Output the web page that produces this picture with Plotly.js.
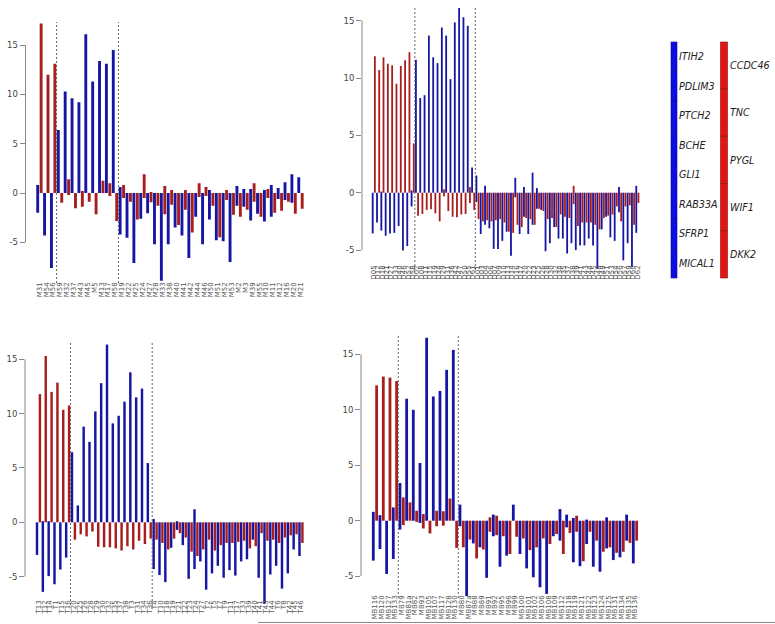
<!DOCTYPE html>
<html>
<head>
<meta charset="utf-8">
<script src="https://cdn.plot.ly/plotly-3.0.1.min.js"></script>
<style>html,body{margin:0;padding:0;background:#fff;}#chart{width:775px;height:624px;}</style>
</head>
<body>
<div id="chart"></div>
<script>
// ---------- DATA ----------
// Panel 1 (top-left)
const P1_LABELS = ["M31","M54","M56","M59","M32","M37","M43","M45","M5","M13","M17","M58","M19","M22","M25","M24","M27","M28","M33","M38","M40","M41","M42","M44","M46","M50","M51","M52","M53","M2","M3","M39","M55","M10","M11","M12","M16","M20","M21"];
const P1_BLUE_POS = [0.8,0,0,6.4,10.3,9.6,9.2,16.1,11.3,13.4,13.1,14.5,0.6,0,0,0,0,0,0,0,0,0,0,0,0,0.3,0,0,0,0.7,0.4,0.4,0,0.3,0.8,0.5,1.1,1.9,1.6];
const P1_BLUE_NEG = [-2.0,-4.3,-7.6,0,0,0,0,0,0,0,0,0,-4.2,-4.55,-7.1,-2.6,-2.05,-5.2,-8.9,-5.2,-3.5,-4.3,-6.6,-2.4,-5.2,-2.7,-4.8,-4.9,-7.0,-1.3,-1.4,-2.8,-2.1,-2.9,-2.4,-0.6,-0.7,-1.0,0];
const P1_RED_POS = [17.2,12.0,13.1,0,1.4,0,0.2,0,0,1.25,1.0,0,0.8,0,0,1.9,0.1,0,0.7,0.3,0,0.3,0,1.0,0.6,0,0,0.3,0,0,0,1.0,0,0.4,0,0,0,0,0];
const P1_RED_NEG = [0,0,0,-1.0,-0.2,-1.55,-1.4,-0.9,-2.15,0,-0.3,-2.85,-0.5,-0.9,-2.7,-0.5,-0.95,-1.3,-2.15,-1.2,-3.25,-1.7,-4.0,-0.4,-0.3,-1.3,-4.5,-0.7,-2.2,-2.4,-1.7,-0.9,-2.4,-0.5,-2.0,-1.8,-0.9,-2.1,-1.6];
const P1_SPLITS = [3,12];

// Panel 2 (top-right)
const P2_LABELS = ["D05","D12","D18","D21","D27","D33","D40","D46","D52","D58",
  "D02","D08","D11","D15","D19","D24","D29","D31","D36","D42","D47","D50","D55","D61",
  "D01","D03","D04","D06","D07","D09","D10","D13","D14","D16","D17","D20","D22","D23","D25","D26","D28","D30","D32","D34","D35","D37","D38","D39","D41","D43","D44","D45","D48","D49","D51","D53","D54","D56","D57","D59","D60","D62"];
const P2_BLUE_POS = [0,0,0.1,0,0,0,0,0,0,0.2,
  11.6,8.25,8.5,13.7,11.8,11.3,14.4,13.7,9.9,14.85,16.1,15.3,14.55,2.2,
  1.5,0,0.6,0,0,0,0,0,0,1.3,0,0.5,0,1.75,0.4,0,0,0,0,0,0,0,0,0,0,0,0,0,0,0,0,0,0,0.5,0,0,0,0.6];
const P2_BLUE_NEG = [-3.55,-2.6,-3.3,-3.75,-3.55,-3.5,-2.9,-5.05,-4.65,-1.2,
  0,0,0,0,0,0,0,0,0,0,0,0,0,0,
  -0.8,-3.6,-2.8,-3.1,-4.9,-4.9,-4.2,-3.4,-5.5,-0.4,-3.6,-2.1,-3.6,-2.8,-1.4,-1.5,-5.1,-4.4,-3.0,-4.0,-4.0,-5.3,-4.4,-5.0,-4.6,-4.6,-4.0,-4.6,-6.6,-3.2,-2.1,-3.9,-4.2,-1.7,-5.9,-4.4,-6.5,-3.5];
const P2_RED_POS = [11.9,10.7,11.8,11.25,11.1,9.5,11.05,11.55,12.25,4.3,
  0,0,0,0,0,0,0.3,0,0,0,0,0,0.5,0,
  0,0,0,0,0,0,0,0,0,0,0,0,0,0,0,0,0,0,0,0,0,0,0.6,0,0,0,0,0,0,0,0,0,0,0,0,0,0,0];
const P2_RED_NEG = [0,0,0,0,0,0,0,0,0,0,
  -2.0,-1.85,-1.5,-1.45,-1.8,-2.5,-0.3,-1.6,-2.1,-2.15,-1.9,-1.85,-0.9,-1.5,
  -2.3,-2.5,-2.4,-2.5,-2.4,-2.3,-2.6,-3.4,-3.5,-2.8,-3.0,-2.2,-2.3,-2.8,-1.4,-1.6,-2.3,-2.2,-3.0,-1.9,-2.1,-2.2,-1.0,-2.9,-2.6,-2.6,-2.6,-2.8,-3.2,-2.2,-2.0,-1.9,-1.2,-2.5,-1.2,-1.1,-2.8,-0.9];
const P2_SPLITS = [10,24];

// Panel 3 (bottom-left)
const P3_LABELS = ["T13","T12","T14","T1","T15","T16",
  "T20","T25","T26","T28","T29","T30","T32","T35","T37","T38","T3","T31","T34","T36",
  "T4","T10","T18","T19","T21","T22","T23","T24","T27","T2","T5","T7","T9","T11","T17","T33","T39","T40","T41","T43","T44","T6","T8","T42","T45","T46"];
const P3_BLUE_POS = [0,0.1,0.1,0,0,0,
  6.45,1.55,8.8,7.4,10.2,12.8,16.35,9.1,9.8,11.1,13.8,11.5,12.3,5.45,
  0.3,0,0,0,0.1,0,0,1.2,0,0,0,0,0,0,0,0,0,0,0,0,0,0,0,0,0,0];
const P3_BLUE_NEG = [-3.0,-6.4,-4.95,-5.7,-4.35,-3.25,
  0,0,0,0,0,0,0,0,0,0,0,0,0,0,
  -4.3,-4.85,-5.5,-2.35,-0.7,-2.1,-5.2,-4.3,-3.6,-6.2,-4.7,-4.0,-5.1,-4.4,-4.9,-3.6,-3.4,-1.6,-5.1,-7.5,-4.8,-4.0,-6.1,-4.7,-2.5,-3.1];
const P3_RED_POS = [11.8,15.3,12.0,12.85,10.35,10.75,
  0,0,0,0,0,0,0,0,0,0,0,0,0,0,
  0,0,0,0,0,0,0,0,0,0,0,0,0,0,0,0,0,0,0,0,0,0,0,0,0,0];
const P3_RED_NEG = [0,0,0,0,0,0,
  -1.6,-1.1,-1.3,-0.85,-2.25,-2.3,-2.3,-2.4,-2.6,-2.2,-2.5,-1.7,-2.0,-1.5,
  -1.6,-1.9,-2.5,-1.5,-1.0,-1.4,-2.7,-3.1,-2.5,-1.6,-2.6,-2.1,-1.9,-1.9,-1.8,-1.7,-2.4,-2.2,-1.0,-1.7,-1.6,-1.9,-1.4,-1.2,-1.1,-1.9];
const P3_SPLITS = [6,20];

// Panel 4 (bottom-right)
const P4_LABELS = ["MB116","MB120","MB127","MB133",
  "MB79","MB81a","MB82","MB93","MB105","MB107","MB117","MB128","MB130",
  "MB80","MB87a","MB88","MB89","MB91","MB92","MB95","MB96","MB99","MB100","MB101","MB102","MB106","MB108","MB109","MB112","MB118","MB119","MB121","MB122","MB123","MB124","MB125","MB131","MB134","MB135","MB136"];
const P4_BLUE_POS = [0.8,0.5,0,1.2,
  3.4,11.0,10.0,5.2,16.5,11.2,11.7,13.6,15.4,
  1.45,0,0,0,0,0.55,0,0,1.45,0,0,0,0,0,0,1.05,0.55,0.25,0,0.1,0,0,0.3,0,0,0.55,0];
const P4_BLUE_NEG = [-3.6,-2.55,-4.8,-3.45,
  -0.8,0,0,-0.2,0,0,0,0,0,
  -0.5,-6.8,-2.05,-2.4,-5.15,-1.4,-4.15,-3.15,0,-3.0,-4.3,-5.1,-6.0,-6.6,-1.4,-1.8,-0.6,-3.75,-4.1,-2.1,-4.15,-4.6,-2.5,-3.55,-3.3,-1.8,-3.85];
const P4_RED_POS = [12.2,13.0,12.9,12.6,
  2.1,1.65,0.9,0.6,0,0.9,0.85,2.0,0,
  0,0,0,0,0.3,0.45,0,0,0,0,0,0,0,0,0,0,0,0.45,0,0,0,0,0,0,0,0,0];
const P4_RED_NEG = [0,0,0,0,
  -0.4,0,-0.1,-0.7,-1.15,-0.5,-0.45,0,-2.45,
  -2.4,-1.7,-3.4,-2.6,-1.0,-1.3,-1.4,-3.0,-1.45,-1.6,-2.65,-2.4,-1.6,-2.1,-1.2,-3.0,-1.1,-1.0,-3.65,-1.0,-1.8,-2.8,-2.4,-2.9,-2.8,-2.0,-1.8];
const P4_SPLITS = [4,13];

// Legend genes
const BLUE_GENES = ["ITIH2","PDLIM3","PTCH2","BCHE","GLI1","RAB33A","SFRP1","MICAL1"];
const RED_GENES = ["CCDC46","TNC","PYGL","WIF1","DKK2"];
const Y_TICKS = [-5,0,5,10,15];
const Y_TICK_TEXT = ["-5","0","5","10","15"];

// ---------- STYLE / GEOMETRY ----------
const W = 775, H = 624;
const BLUE = "#1616a4", RED = "#a81e1e";
const FONT = "DejaVu Sans, Verdana, sans-serif";
const px = v => v / W;             // x pixel -> paper
const py = v => 1 - v / H;         // y pixel -> paper

const panels = [
  {lab:P1_LABELS,bp:P1_BLUE_POS,bn:P1_BLUE_NEG,rp:P1_RED_POS,rn:P1_RED_NEG,sp:P1_SPLITS,
   x0:37.7,dx:6.87,xl:25.5,xr:312,y0:193,dy:9.86,yt:22,yb:283,lab_y:280},
  {lab:P2_LABELS,bp:P2_BLUE_POS,bn:P2_BLUE_NEG,rp:P2_RED_POS,rn:P2_RED_NEG,sp:P2_SPLITS,
   x0:372.7,dx:4.321,xl:362,xr:645,y0:192.7,dy:11.47,yt:7,yb:270,lab_y:263},
  {lab:P3_LABELS,bp:P3_BLUE_POS,bn:P3_BLUE_NEG,rp:P3_RED_POS,rn:P3_RED_NEG,sp:P3_SPLITS,
   x0:37,dx:5.833,xl:25,xr:310,y0:522.3,dy:10.87,yt:343,yb:605,lab_y:598},
  {lab:P4_LABELS,bp:P4_BLUE_POS,bn:P4_BLUE_NEG,rp:P4_RED_POS,rn:P4_RED_NEG,sp:P4_SPLITS,
   x0:373.3,dx:6.667,xl:361,xr:645,y0:520.7,dy:11.09,yt:336,yb:598,lab_y:593}
];

const data = [];
const layout = {
  width: W, height: H,
  margin: {l:0,r:0,t:0,b:0},
  paper_bgcolor: "#fff", plot_bgcolor: "rgba(0,0,0,0)",
  showlegend: false, barmode: "overlay",
  font: {family: FONT, color: "#333"},
  shapes: [], annotations: []
};

panels.forEach((p, k) => {
  const n = k + 1;
  const xa = n === 1 ? "x" : "x" + n, ya = n === 1 ? "y" : "y" + n;
  const xk = n === 1 ? "xaxis" : "xaxis" + n, yk = n === 1 ? "yaxis" : "yaxis" + n;
  const idx = p.lab.map((_, i) => i);
  data.push({type:"bar", x: idx, base: p.bn, y: p.bp.map((v,i)=>v - p.bn[i]),
    width: 0.42, marker:{color: BLUE, line:{width:0}}, xaxis: xa, yaxis: ya, hoverinfo:"skip"});
  data.push({type:"bar", x: idx.map(i=>i+0.5), base: p.rn, y: p.rp.map((v,i)=>v - p.rn[i]),
    width: 0.42, marker:{color: RED, line:{width:0}}, xaxis: xa, yaxis: ya, hoverinfo:"skip"});
  layout[xk] = {
    domain: [px(p.xl), px(p.xr)],
    range: [(p.xl - p.x0)/p.dx, (p.xr - p.x0)/p.dx],
    anchor: "free", position: py(p.lab_y),
    tickvals: idx.map(i=>i+0.25), ticktext: p.lab, tickangle: -90,
    tickfont: {size: 7, color: "#555", family: FONT},
    ticks: "", showgrid: false, zeroline: false, showline: false, fixedrange: true
  };
  layout[yk] = {
    domain: [py(p.yb), py(p.yt)],
    range: [(p.y0 - p.yb)/p.dy, (p.y0 - p.yt)/p.dy],
    anchor: xa,
    tickvals: Y_TICKS, ticktext: Y_TICK_TEXT,
    ticks: "outside", ticklen: 5, tickcolor: "#888", tickwidth: 1,
    tickfont: {size: 8.5, color: "#444", family: FONT},
    showgrid: false, zeroline: false, showline: false, fixedrange: true
  };
  // R-style axis line only between extreme ticks
  layout.shapes.push({type:"line", xref:"paper", yref: ya, x0: px(p.xl), x1: px(p.xl),
    y0: Y_TICKS[0], y1: Y_TICKS[Y_TICKS.length-1], line:{color:"#888", width:1}});
  // dashed group separators
  p.sp.forEach(s => {
    layout.shapes.push({type:"line", xref: xa, yref: ya + " domain", x0: s - 0.25, x1: s - 0.25,
      y0: 0, y1: 1, line:{color:"#666", width:1, dash:"2px,2px"}});
  });
});

// bottom rule
layout.shapes.push({type:"line", xref:"paper", yref:"paper", x0: px(258), x1: 1,
  y0: py(622.5), y1: py(622.5), line:{color:"#888", width:1}});

// gene colour key
const KEY_TOP = 42, KEY_BOT = 278;
const keyCols = [
  {genes: BLUE_GENES, x0: 671, x1: 677, fill: "#0e0ee2", edge: "#0a0a9a", tx: 677},
  {genes: RED_GENES, x0: 720.5, x1: 727.5, fill: "#e31414", edge: "#8a0a0a", tx: 728}
];
keyCols.forEach(c => {
  const segH = (KEY_BOT - KEY_TOP) / c.genes.length;
  c.genes.forEach((g, i) => {
    const t = KEY_TOP + i*segH, b = t + segH;
    layout.shapes.push({type:"rect", xref:"paper", yref:"paper",
      x0: px(c.x0), x1: px(c.x1), y0: py(b), y1: py(t),
      fillcolor: c.fill, line:{color: c.edge, width: 0.6}});
    layout.annotations.push({xref:"paper", yref:"paper", x: px(c.tx), y: py((t+b)/2),
      xanchor:"left", yanchor:"middle", showarrow:false, text:"<i>"+g+"</i>",
      font:{family: FONT, size: 9.6, color:"#222"}});
  });
});

Plotly.newPlot("chart", data, layout, {staticPlot: true, displayModeBar: false});
</script>
</body>
</html>
